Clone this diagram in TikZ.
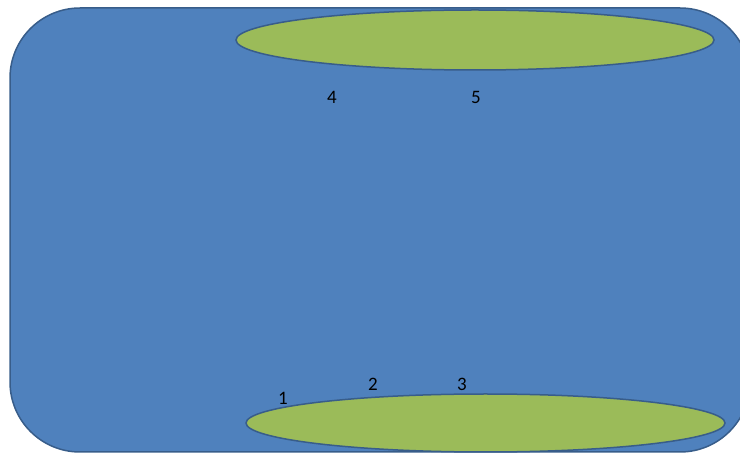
\documentclass[tikz,border=0pt]{standalone}
\usepackage{fontspec}
\setmainfont{Carlito}
\usetikzlibrary{shapes.geometric}
\definecolor{officeblue}{HTML}{4F81BD}
\definecolor{officeline}{HTML}{385D8A}
\definecolor{officegreen}{HTML}{9BBB59}
\tikzset{
  panel/.style={fill=officeblue, draw=officeline, line width=1.5pt, rounded corners=70pt},
  disc/.style={ellipse, fill=officegreen, draw=officeline, line width=1.5pt, inner sep=0pt},
  lbl/.style={font=\fontsize{19}{22}\selectfont, text=black, inner sep=0pt}
}
\begin{document}
\begin{tikzpicture}[x=1pt,y=-1pt]
\useasboundingbox (0,0) rectangle (740,454);
\begin{scope}
\clip (0,0) rectangle (740,454);
\draw[panel] (10,8) rectangle (750,452);
\end{scope}
\node[disc, minimum width=478pt, minimum height=60pt] (top) at (475,40) {};
\node[disc, minimum width=479pt, minimum height=58pt] (bottom) at (485.5,423) {};
\node[lbl] (n4) at (332,97) {4};
\node[lbl] (n5) at (476,97) {5};
\node[lbl] (n1) at (283,398) {1};
\node[lbl] (n2) at (373,384) {2};
\node[lbl] (n3) at (462,384) {3};
\end{tikzpicture}
\end{document}
